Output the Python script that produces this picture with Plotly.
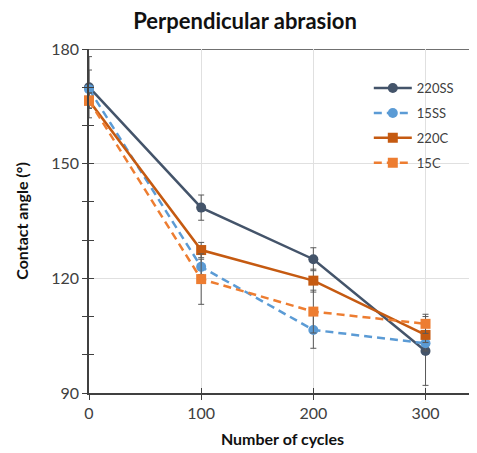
import plotly.graph_objects as go

cycles = [0, 100, 200, 300]
s220SS = [170, 138.5, 125, 101]
e220SS = [8, 3.3, 3, 9]
s15SS = [169.5, 123, 106.5, 103]
e15SS = [5, 2, 4.8, 2]
s220C = [166.5, 127.4, 119.4, 105.2]
e220C = [2, 2, 3, 2]
s15C = [166.5, 119.8, 111.3, 108.1]
e15C = [2, 6.6, 5.6, 2.5]

names = ["220SS", "15SS", "220C", "15C"]
values = [s220SS, s15SS, s220C, s15C]
errors = [e220SS, e15SS, e220C, e15C]
colors = ["#44546A", "#5B9BD5", "#C55A11", "#ED7D31"]
dashes = ["solid", "8px,5px", "solid", "8px,5px"]
symbols = ["circle", "circle", "square", "square"]

FONT = "Lato"
fig = go.Figure()
for i in range(4):
    fig.add_trace(go.Scatter(
        x=cycles, y=values[i], name=names[i], mode="lines+markers",
        line=dict(color=colors[i], width=2.5, dash=dashes[i]),
        marker=dict(color=colors[i], size=10, symbol=symbols[i]),
        error_y=dict(type="data", array=errors[i], color="#595959", thickness=1, width=3),
        legendgroup=names[i], cliponaxis=False,
    ))

# top dark line at 180
fig.add_shape(type="line", xref="paper", yref="y", x0=0, x1=1, y0=180, y1=180,
              line=dict(color="#404040", width=1.5), layer="below")

axis_common = dict(showline=True, linecolor="#404040", linewidth=1.5,
                   tickfont=dict(family=FONT, size=16, color="#404040"),
                   zeroline=False, automargin=False)
fig.update_layout(
    width=477, height=453,
    margin=dict(l=81, r=9, t=41, b=68),
    paper_bgcolor="white", plot_bgcolor="white",
    title=dict(text="<b>Perpendicular abrasion</b>", x=0.497, xanchor="center", y=0.97,
               yref="container", yanchor="middle",
               font=dict(family=FONT, size=22, color="#111111")),
    xaxis=dict(range=[0, 345], tickvals=[0, 100, 200, 300], showgrid=True,
               gridcolor="#E0E0E0", gridwidth=1, ticks="outside", ticklen=5,
               tickcolor="#404040",
               title=dict(text="<b>Number of cycles</b>", font=dict(family=FONT, size=16, color="#111111"), standoff=13),
               **axis_common),
    yaxis=dict(range=[90, 180], tickvals=[90, 120, 150, 180], showgrid=True,
               gridcolor="#E0E0E0", gridwidth=1, ticks="outside", ticklen=5,
               tickcolor="#404040",
               minor=dict(dtick=10, ticks="outside", ticklen=5, tickcolor="#404040", showgrid=False),
               title=dict(text="<b>Contact angle (°)</b>", font=dict(family=FONT, size=16, color="#111111"), standoff=19),
               **axis_common),
    xaxis2=dict(range=[0, 345], overlaying="x", tickvals=[0, 100, 200, 300], ticks="inside",
                ticklen=5, tickcolor="#404040", showticklabels=False, showgrid=False,
                zeroline=False, showline=False, automargin=False),
    yaxis2=dict(range=[90, 180], overlaying="y", dtick=10, tick0=90, ticks="inside",
                ticklen=5, tickcolor="#404040", showticklabels=False, showgrid=False,
                zeroline=False, showline=False, automargin=False),
    legend=dict(x=0.723, y=0.93, xanchor="left", yanchor="top", bgcolor="rgba(0,0,0,0)",
                font=dict(family=FONT, size=13, color="#404040"), tracegroupgap=5,
                itemwidth=38),
    showlegend=True,
)
fig.add_trace(go.Scatter(x=[None], y=[None], xaxis="x2", yaxis="y2", showlegend=False, hoverinfo="skip"))
fig.write_html("out.html")
